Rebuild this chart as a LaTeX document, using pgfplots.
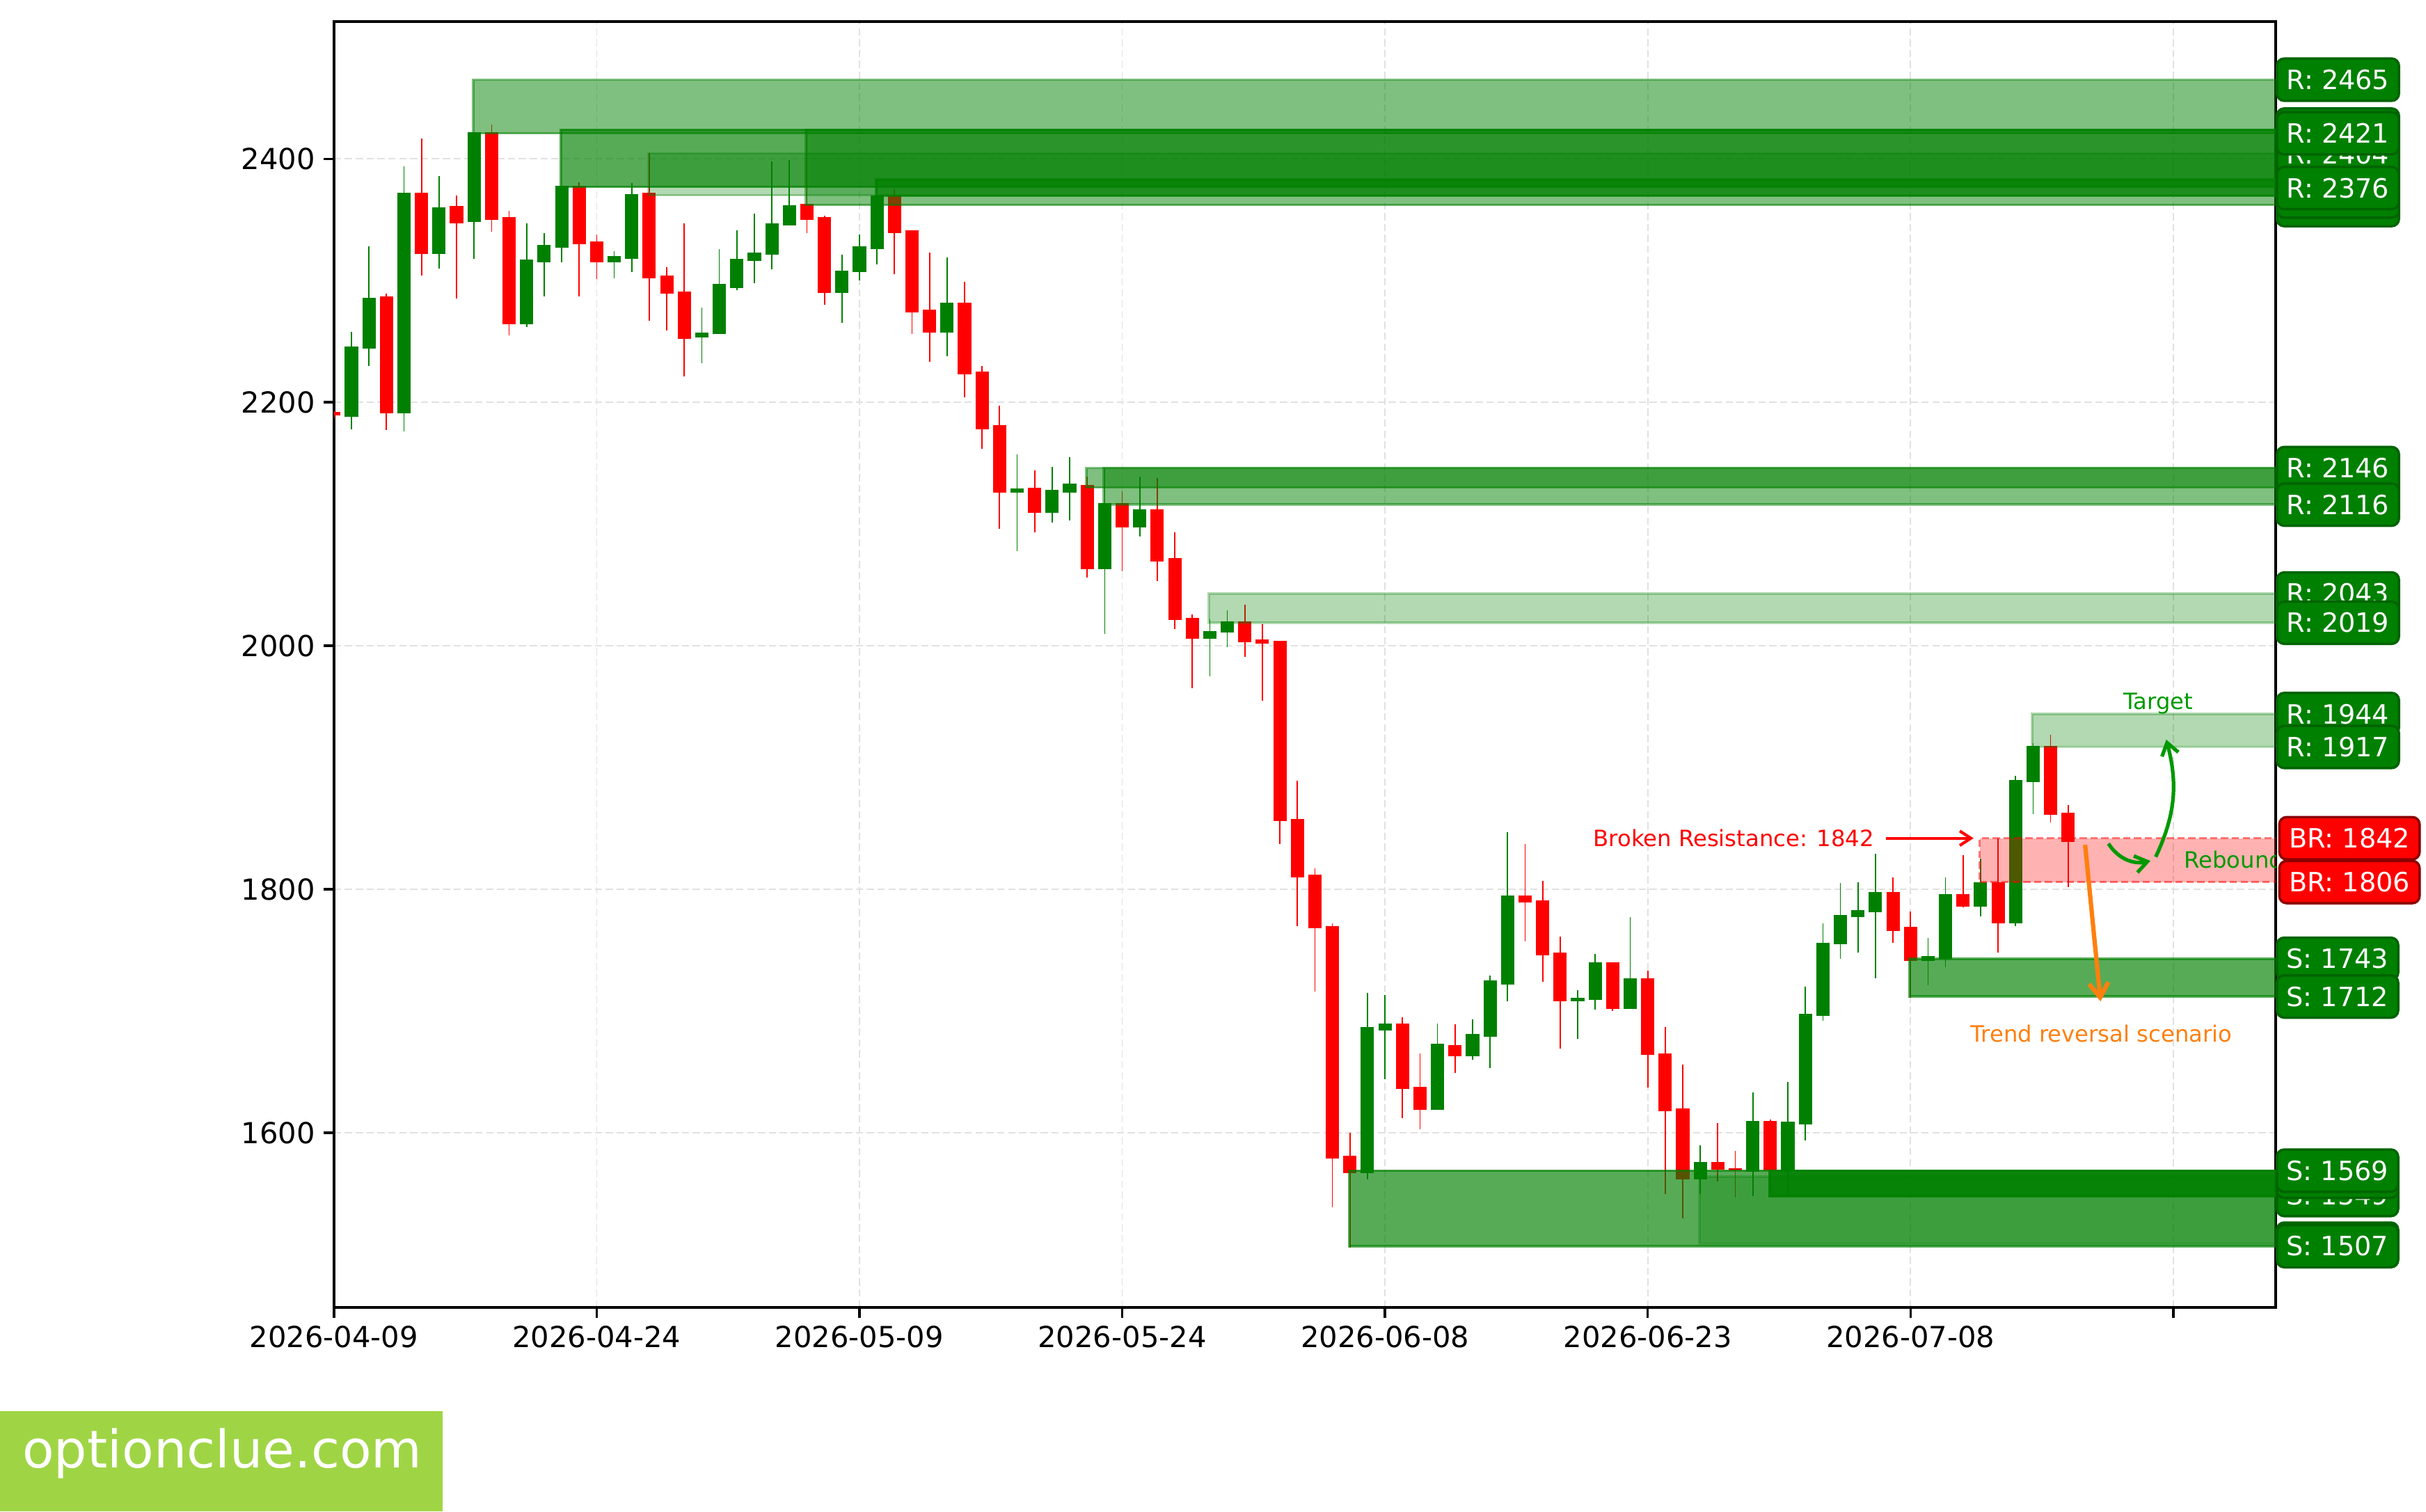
\documentclass[border=0pt]{standalone}
\usepackage{fontspec}
\setmainfont{DejaVu Sans}
\usepackage{pgfplots}
\usepackage{pgfplotstable}
\pgfplotsset{compat=1.18}
\usetikzlibrary{arrows.meta}
\definecolor{cgreen}{RGB}{0,128,0}
\definecolor{cred}{RGB}{255,0,0}
\definecolor{darkgreen}{RGB}{0,100,0}
\definecolor{darkred}{RGB}{139,0,0}
\definecolor{annogreen}{RGB}{0,153,0}
\definecolor{corange}{RGB}{255,127,14}
\definecolor{gridc}{RGB}{225,225,225}
\definecolor{wm}{RGB}{159,213,69}

\pgfplotstableread{
i O H L C
1 2188 2258 2178 2246
2 2244 2328 2230 2286
4 2191 2394 2176 2372
6 2322 2386 2310 2360
8 2348 2422 2318 2422
11 2264 2347 2262 2317
12 2315 2339 2287 2329
13 2327 2378 2315 2378
16 2315 2324 2302 2320
17 2318 2380 2307 2371
21 2253 2278 2232 2257
22 2256 2326 2256 2297
23 2294 2341 2292 2318
24 2316 2355 2298 2323
25 2321 2398 2309 2347
26 2345 2399 2345 2362
29 2290 2321 2265 2308
30 2307 2338 2300 2328
31 2326 2383 2313 2370
35 2257 2319 2238 2282
39 2126 2157 2078 2129
41 2109 2147 2101 2128
42 2126 2155 2103 2133
44 2063 2146 2010 2117
46 2097 2139 2090 2112
50 2006 2022 1975 2012
51 2011 2029 1999 2020
59 1567 1715 1562 1687
60 1684 1713 1644 1690
63 1619 1690 1619 1673
65 1663 1693 1660 1681
66 1679 1729 1653 1725
67 1722 1847 1708 1795
71 1708 1717 1677 1711
72 1709 1747 1701 1740
74 1702 1777 1702 1727
78 1562 1590 1550 1576
81 1568 1633 1548 1610
83 1569 1642 1548 1609
84 1607 1720 1594 1698
85 1696 1772 1692 1756
86 1755 1805 1743 1779
87 1777 1806 1748 1783
88 1781 1829 1727 1798
91 1741 1760 1721 1745
92 1743 1810 1736 1796
94 1786 1825 1778 1806
96 1772 1893 1770 1890
97 1888 1920 1862 1918
}\greencandles

\pgfplotstableread{
i O H L C
0 2192 2193 2187 2189
3 2287 2289 2177 2191
5 2372 2417 2304 2322
7 2361 2370 2285 2347
9 2422 2428 2340 2350
10 2352 2357 2255 2264
14 2378 2381 2287 2330
15 2332 2338 2301 2315
18 2372 2405 2267 2302
19 2304 2311 2259 2289
20 2291 2347 2221 2252
27 2363 2424 2339 2350
28 2352 2353 2280 2290
32 2370 2375 2305 2339
33 2341 2341 2256 2274
34 2276 2323 2233 2257
36 2282 2299 2204 2223
37 2225 2230 2162 2178
38 2181 2197 2096 2126
40 2130 2144 2093 2109
43 2132 2139 2056 2063
45 2117 2127 2061 2097
47 2112 2138 2053 2069
48 2072 2093 2014 2021
49 2023 2026 1965 2006
52 2020 2034 1991 2003
53 2005 2018 1955 2002
54 2004 2004 1837 1856
55 1858 1889 1770 1810
56 1812 1817 1716 1768
57 1770 1772 1539 1579
58 1581 1600 1506 1567
61 1690 1695 1612 1636
62 1638 1665 1603 1619
64 1672 1689 1649 1663
68 1795 1837 1757 1789
69 1791 1807 1724 1746
70 1748 1761 1669 1708
73 1740 1740 1700 1702
75 1727 1733 1637 1664
76 1665 1687 1550 1618
77 1620 1656 1530 1562
79 1576 1608 1560 1570
80 1571 1585 1547 1569
82 1610 1611 1548 1569
89 1798 1810 1756 1766
90 1769 1782 1711 1741
93 1796 1828 1785 1786
95 1806 1842 1748 1772
98 1918 1927 1855 1861
99 1863 1869 1802 1839
}\redcandles

\newcommand{\zone}[4]{%
  \addplot[fill=cgreen, draw=cgreen, fill opacity=#4, draw opacity=#4, line width=1pt, forget plot]
    coordinates {(#1,#2) (115,#2) (115,#3) (#1,#3)} -- cycle;}

\tikzset{
  lab/.style={anchor=west, fill=cgreen, draw=darkgreen, line width=1pt, rounded corners=3pt,
    text=white, font=\fontsize{11}{11}\selectfont, inner xsep=4pt, inner ysep=0pt, minimum height=17.5pt},
  blab/.style={lab, fill=cred, draw=darkred, xshift=1pt},
  anno/.style={font=\fontsize{9.3}{11}\selectfont, inner sep=0pt}
}
\newcommand{\lab}[2]{\node[lab] at (axis cs:110.85,#1) {#2};}
\newcommand{\blab}[2]{\node[blab] at (axis cs:110.85,#1) {#2};}

\begin{document}
\begin{tikzpicture}
\path[use as bounding box] (-138.2pt,-84.4pt) rectangle (865.8pt,541.2pt);
\begin{axis}[
  at={(0pt,0pt)}, anchor=south west,
  scale only axis, width=803.6pt, height=532.2pt,
  xmin=0, xmax=110.85, ymin=1456.6, ymax=2512.6,
  axis line style={line width=1pt, black},
  tick align=outside, major tick length=4.2pt, tick pos=left,
  tick style={line width=1pt, black},
  xtick={0,15,30,45,60,75,90,105},
  xticklabels={2026-04-09,2026-04-24,2026-05-09,2026-05-24,2026-06-08,2026-06-23,2026-07-08,{}},
  ytick={1600,1800,2000,2200,2400},
  yticklabels={1600,1800,2000,2200,2400},
  ticklabel style={font=\fontsize{12}{14}\selectfont},
  grid=major,
  major grid style={gridc, dash pattern=on 3pt off 1.5pt, line width=0.5pt},
  after end axis/.code={
    \lab{2383}{R: 2383}
    \lab{2362}{R: 2362}
    \lab{2370}{R: 2370}
    \lab{2369}{R: 2369}
    \lab{2404}{R: 2404}
    \lab{2424}{R: 2424}
    \lab{2421}{R: 2421}
    \lab{2376}{R: 2376}
    \lab{2465}{R: 2465}
    \lab{2131}{R: 2131}
    \lab{2146}{R: 2146}
    \lab{2116}{R: 2116}
    \lab{2043}{R: 2043}
    \lab{2019}{R: 2019}
    \lab{1944}{R: 1944}
    \lab{1917}{R: 1917}
    \blab{1842}{BR: 1842}
    \blab{1806}{BR: 1806}
    \lab{1743}{S: 1743}
    \lab{1712}{S: 1712}
    \lab{1509}{S: 1509}
    \lab{1549}{S: 1549}
    \lab{1564}{S: 1564}
    \lab{1569}{S: 1569}
    \lab{1507}{S: 1507}
  },
]
% wicks
\addplot[draw=none, mark=none, forget plot, error bars/.cd, y dir=plus, y explicit, error mark=none,
  error bar style={draw=cgreen, line width=0.5pt}]
  table[x=i, y=L, y error plus expr=\thisrow{H}-\thisrow{L}] {\greencandles};
\addplot[draw=none, mark=none, forget plot, error bars/.cd, y dir=plus, y explicit, error mark=none,
  error bar style={draw=cred, line width=0.5pt}]
  table[x=i, y=L, y error plus expr=\thisrow{H}-\thisrow{L}] {\redcandles};
% bodies
\addplot[draw=none, mark=none, forget plot, error bars/.cd, y dir=plus, y explicit, error mark=none,
  error bar style={draw=cgreen, line width=5.5pt}]
  table[x=i, y=O, y error plus expr=\thisrow{C}-\thisrow{O}] {\greencandles};
\addplot[draw=none, mark=none, forget plot, error bars/.cd, y dir=plus, y explicit, error mark=none,
  error bar style={draw=cred, line width=5.5pt}]
  table[x=i, y=C, y error plus expr=\thisrow{O}-\thisrow{C}] {\redcandles};

% zones
\zone{7.95}{2421}{2465}{0.5}
\zone{12.95}{2377}{2424}{0.66}
\zone{17.95}{2370}{2404.5}{0.3}
\zone{26.95}{2362}{2424}{0.5}
\zone{30.95}{2369.5}{2383}{0.66}
\zone{42.95}{2130}{2146}{0.5}
\zone{43.95}{2116}{2146}{0.5}
\zone{49.95}{2019}{2043}{0.3}
\zone{57.95}{1507}{1569}{0.66}
\zone{77.95}{1509}{1564}{0.3}
\zone{81.95}{1548}{1569}{0.66}
\zone{81.95}{1548}{1569}{0.66}
\zone{89.95}{1712}{1743}{0.66}
\zone{96.95}{1917}{1944}{0.3}
\addplot[fill=cred, fill opacity=0.3, draw=cred, draw opacity=0.5, line width=1pt,
  dash pattern=on 3pt off 1.5pt, forget plot]
  coordinates {(93.95,1806) (115,1806) (115,1842) (93.95,1842)} -- cycle;

% annotations
\node[anno, anchor=east, text=cred] at (axis cs:87.95,1842) {Broken Resistance: 1842};
\draw[cred, line width=1.2pt, -{Straight Barb[length=4.6pt,width=6pt]}] (axis cs:88.6,1842) -- (axis cs:93.6,1842);
\node[anno, text=annogreen] at (axis cs:104.15,1952.5) {Target};
\node[anno, anchor=west, text=annogreen] at (axis cs:105.6,1824.6) {Rebound};
\draw[annogreen, line width=1.5pt, -{Straight Barb[length=5pt,width=7pt]}] (axis cs:101.3,1837.6) to[bend right=35] (axis cs:103.7,1823.4);
\draw[annogreen, line width=1.5pt, -{Straight Barb[length=5pt,width=7pt]}] (axis cs:104.0,1826.7) to[bend right=20] (axis cs:104.6,1923);
\draw[corange, line width=1.8pt, -{Straight Barb[length=6pt,width=8pt]}] (axis cs:99.97,1836.6) -- (axis cs:100.85,1708);
\node[anno, text=corange] at (axis cs:100.9,1681.3) {Trend reversal scenario};
\end{axis}
\fill[wm] (-138.2pt,-84.4pt) rectangle (45pt,-42.9pt);
\node[anchor=mid west, text=white, font=\fontsize{21.5}{24}\selectfont, inner sep=0pt] at (-129.1pt,-63.65pt) {optionclue.com};
\end{tikzpicture}
\end{document}
